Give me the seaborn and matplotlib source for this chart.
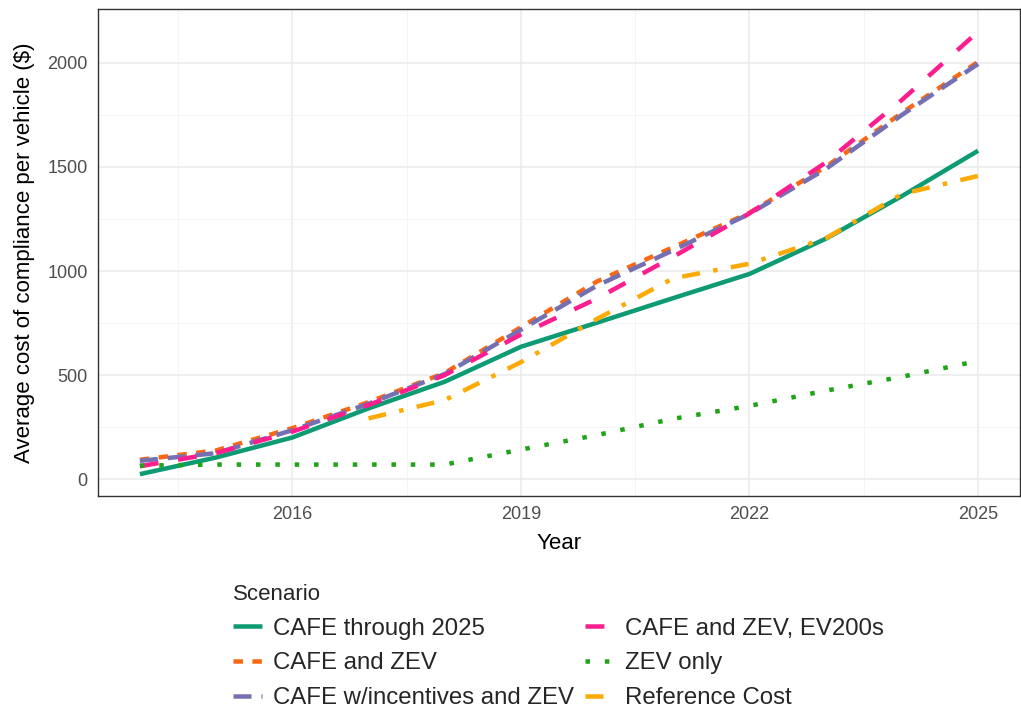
import pandas as pd
import matplotlib
matplotlib.use("Agg")
import matplotlib.pyplot as plt
import matplotlib.ticker as mtick
import seaborn as sns

years = list(range(2014, 2026))

cafe_2025 = [24, 104, 200, 340, 468, 636, 752, 870, 986, 1155, 1360, 1578]
cafe_zev = [93, 138, 245, 370, 510, 730, 950, 1115, 1280, 1500, 1760, 2005]
cafe_incent_zev = [88, 125, 235, 362, 505, 718, 930, 1100, 1275, 1490, 1750, 1995]
cafe_zev_ev200 = [62, 125, 228, 356, 500, 695, 868, 1069, 1277, 1521, 1822, 2150]
zev_only = [65, 70, 70, 70, 70, 142, 212, 290, 352, 425, 492, 568]
ref_years = list(range(2017, 2026))
ref_cost = [292, 380, 562, 770, 965, 1035, 1157, 1370, 1457]

scenarios = ["CAFE through 2025", "CAFE and ZEV", "CAFE w/incentives and ZEV",
             "CAFE and ZEV, EV200s", "ZEV only", "Reference Cost"]
colors = ["#0E9B74", "#FB6812", "#7570B3", "#FB1E8E", "#1FA317", "#FBAA06"]
dash_styles = ["", (2.1, 2.1), (4.0, 2.2), (4.2, 4.4), (1.0, 3.3), (4, 3, 1, 3)]

frames = []
for name, ys, xs in [(scenarios[0], cafe_2025, years), (scenarios[1], cafe_zev, years),
                     (scenarios[2], cafe_incent_zev, years), (scenarios[3], cafe_zev_ev200, years),
                     (scenarios[4], zev_only, years), (scenarios[5], ref_cost, ref_years)]:
    frames.append(pd.DataFrame({"Year": xs, "Cost": ys, "Scenario": name}))
df = pd.concat(frames, ignore_index=True)

sns.set_theme(style="white")
plt.rcParams["font.family"] = ["Liberation Sans", "DejaVu Sans"]
plt.rcParams["lines.solid_capstyle"] = "butt"
plt.rcParams["lines.dash_capstyle"] = "butt"

fig = plt.figure(figsize=(10.21, 7.09), dpi=100)
ax = fig.add_axes([98 / 1021, 1 - 496 / 709, 922 / 1021, 487 / 709])

sns.lineplot(data=df, x="Year", y="Cost", hue="Scenario", style="Scenario",
             hue_order=scenarios, style_order=scenarios,
             palette=dict(zip(scenarios, colors)),
             dashes=dict(zip(scenarios, dash_styles)),
             linewidth=3.24, ax=ax)

ax.set_xlim(2013.45, 2025.55)
ax.set_ylim(-81, 2259)
ax.set_xticks([2016, 2019, 2022, 2025])
ax.xaxis.set_minor_locator(mtick.FixedLocator([2014.5, 2017.5, 2020.5, 2023.5]))
ax.set_yticks([0, 500, 1000, 1500, 2000])
ax.yaxis.set_minor_locator(mtick.FixedLocator([250, 750, 1250, 1750]))
ax.grid(which="major", color="#EBEBEB", linewidth=1.1)
ax.grid(which="minor", color="#F2F2F2", linewidth=0.6)
ax.set_axisbelow(True)
for s in ax.spines.values():
    s.set_color("#333333")
    s.set_linewidth(1.0)
ax.tick_params(axis="both", which="major", direction="out", length=4, width=0.9,
               color="#333333", labelcolor="#4D4D4D", labelsize=13, pad=3.5)
ax.tick_params(axis="both", which="minor", length=0)

ax.set_xlabel("Year", fontsize=16, color="black", labelpad=7)
ax.set_ylabel("Average cost of compliance per vehicle (\\$)", fontsize=16,
              color="black", labelpad=9)

handles, labels = ax.get_legend_handles_labels()
ax.get_legend().remove()
leg = fig.legend(handles, labels, loc="upper left", bbox_to_anchor=(233 / 1021, 1 - 584 / 709),
                 ncol=2, title="Scenario", frameon=False, fontsize=17.3,
                 title_fontsize=16, handlelength=1.2, handletextpad=0.46,
                 columnspacing=0.45, labelspacing=0.53, borderpad=0, borderaxespad=0)
leg._legend_box.align = "left"

fig.savefig("out.png", dpi=100)
